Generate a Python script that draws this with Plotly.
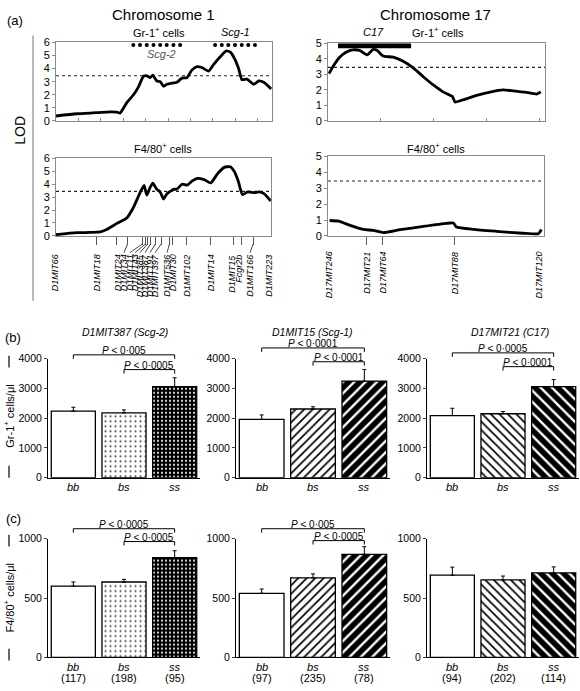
import plotly.graph_objects as go

W, H = 580, 691
FONT = "Liberation Sans, Arial, sans-serif"

# ---------------- data ----------------
chr1_len = 96.4
chr17_len = 41.0
lod_threshold = 3.45

chr1_gr1_cm = [0, 9.2, 18.2, 24.1, 27.1, 28.6, 31.6, 34.6, 36.8, 39.0, 40.5, 42.0, 43.2, 45.0, 46.5,
               48.0, 49.5, 52.5, 54.0, 56.2, 58.4, 60.7, 62.9, 65.1, 68.1, 70.3, 73.3, 76.0, 77.8,
               80.0, 81.5, 83.0, 85.2, 88.2, 90.5, 92.7, 96.0]
chr1_gr1_lod = [0.38, 0.55, 0.63, 0.7, 0.68, 0.6, 1.4, 2.0, 2.6, 3.4, 3.45, 3.3, 3.5, 3.05, 3.0,
                2.65, 2.8, 2.9, 2.95, 3.27, 3.3, 3.9, 4.15, 4.08, 3.8, 4.3, 4.9, 5.35, 5.25,
                4.65, 4.0, 3.15, 3.2, 2.8, 3.05, 2.95, 2.45]

chr1_f480_cm = [0, 9.3, 18.3, 19.8, 22.7, 27.2, 31.7, 34.7, 37.7, 39.5, 40.7, 42.2, 43.4, 45.2, 46.7,
                48.2, 49.7, 52.7, 54.2, 56.6, 58.8, 61.1, 63.4, 66.4, 69.4, 72.4, 75.4, 78.1, 79.9,
                81.7, 83.6, 85.9, 88.9, 91.1, 93.4, 96.3]
chr1_f480_lod = [0.1, 0.25, 0.3, 0.32, 0.5, 0.95, 1.38, 2.2, 3.35, 3.9, 3.15, 3.75, 4.08, 3.6, 3.4,
                 2.85, 3.25, 3.6, 3.62, 4.0, 3.92, 4.25, 4.45, 4.35, 4.1, 4.8, 5.3, 5.35, 5.0,
                 4.25, 3.2, 3.4, 3.35, 3.4, 3.25, 2.7]

chr17_gr1_cm = [0.2, 0.9, 2.2, 3.4, 4.7, 6.0, 7.4, 8.5, 9.3, 10.4, 12.3, 14.2, 16.1, 18.0, 19.9,
                21.8, 23.5, 24.0, 25.6, 28.1, 30.6, 33.1, 35.0, 37.5, 39.4, 40.2]
chr17_gr1_lod = [3.06, 3.48, 4.1, 4.43, 4.58, 4.54, 4.26, 4.6, 4.54, 4.18, 4.11, 3.84, 3.42, 2.85, 2.32,
                 1.86, 1.58, 1.22, 1.37, 1.65, 1.86, 2.0, 1.94, 1.84, 1.73, 1.86]

chr17_f480_cm = [0.3, 2.0, 4.2, 6.7, 8.6, 10.5, 13.7, 18.1, 22.5, 23.8, 24.4, 27.6, 32.0, 37.0, 39.9, 40.5]
chr17_f480_lod = [0.97, 0.93, 0.66, 0.41, 0.35, 0.21, 0.39, 0.6, 0.79, 0.81, 0.56, 0.41, 0.29, 0.17, 0.14, 0.41]

scg2_dots_cm = [34.5, 37.5, 40.5, 43.5, 46.5, 49.4, 52.4, 55.4]
scg1_dots_cm = [71.0, 74.0, 76.9, 79.9, 82.9, 85.8, 88.8]
dots_lod = 5.8
c17_interval_cm = [1.9, 15.7]
c17_bar_lod = 4.85

chr1_markers = ["D1MIT66", "D1MIT18", "D1MIT24", "D1MIT34", "D1MIT11", "D1MIT43", "D1MIT385",
                "D1MIT387", "D1MIT191", "D1MIT397", "D1MIT536", "D1MIT30", "D1MIT102", "D1MIT14",
                "D1MIT15", "Fcgr2b", "D1MIT166", "D1MIT223"]
chr1_marker_cm = [0, 18.3, 27.2, 32.1, 38.8, 40.2, 41.1, 42.4, 44.6, 47.3, 50.9, 52.2, 58.5, 69.2,
                  79.5, 83.0, 88.4, 96.4]
chr17_markers = ["D17MIT246", "D17MIT21", "D17MIT64", "D17MIT88", "D17MIT120"]
chr17_marker_cm = [0.2, 7.4, 10.4, 24.0, 40.1]

genotypes = ["bb", "bs", "ss"]
gr1_scg2 = [2240, 2180, 3060]
gr1_scg2_err = [130, 100, 300]
gr1_scg1 = [1960, 2310, 3250]
gr1_scg1_err = [150, 75, 390]
gr1_c17 = [2090, 2150, 3060]
gr1_c17_err = [245, 75, 240]
f480_scg2 = [600, 635, 840]
f480_scg2_err = [35, 22, 58]
f480_scg1 = [540, 670, 868]
f480_scg1_err = [36, 33, 64]
f480_c17 = [692, 652, 712]
f480_c17_err = [68, 33, 50]
n_scg2 = [117, 198, 95]
n_scg1 = [97, 235, 78]
n_c17 = [94, 202, 114]

# brackets: (panel, from, to, y value, label)
brackets = [
    (5, 0, 2, 4132, "<i>P</i> < 0·005"), (5, 1, 2, 3636, "<i>P</i> < 0·0005"),
    (6, 0, 2, 4364, "<i>P</i> < 0·0001"), (6, 1, 2, 3900, "<i>P</i> < 0·0001"),
    (7, 0, 2, 4198, "<i>P</i> < 0·0005"), (7, 1, 2, 3735, "<i>P</i> < 0·0001"),
    (8, 0, 2, 1083, "<i>P</i> < 0·0005"), (8, 1, 2, 975, "<i>P</i> < 0·0005"),
    (9, 0, 2, 1083, "<i>P</i> < 0·005"), (9, 1, 2, 983, "<i>P</i> < 0·0005"),
]

# ---------------- layout helpers ----------------
def px(x):
    return x / W

def py(y):
    return 1 - y / H

def dom_x(a, b):
    return [a / W, b / W]

def dom_y(top, bottom):
    return [1 - bottom / H, 1 - top / H]

fig = go.Figure()
layout = dict(width=W, height=H, margin=dict(l=0, r=0, t=0, b=0),
              paper_bgcolor="white", plot_bgcolor="white", showlegend=False,
              font=dict(family=FONT, color="black"), annotations=[], shapes=[])

def axname(i, kind):
    return kind if i == 1 else f"{kind}{i}"

def layname(i, kind):
    return kind + "axis" if i == 1 else f"{kind}axis{i}"

# ---------------- LOD panels ----------------
lod_panels = [
    (1, (56, 272), (37, 117), chr1_len, 6, chr1_gr1_cm, chr1_gr1_lod),
    (2, (328, 545), (38, 117), chr17_len, 5, chr17_gr1_cm, chr17_gr1_lod),
    (3, (56, 271), (155, 234), chr1_len, 6, chr1_f480_cm, chr1_f480_lod),
    (4, (328, 544), (153, 234), chr17_len, 5, chr17_f480_cm, chr17_f480_lod),
]
GRAY = "#8a8a8a"
for i, xd, yd, L, ymax, xs, ys in lod_panels:
    xa, ya = axname(i, "x"), axname(i, "y")
    bottom = i in (3, 4)
    if bottom:
        mcm = chr1_marker_cm[1:-1] if i == 3 else chr17_marker_cm[1:-1]
        xaxis = dict(domain=dom_x(*xd), range=[0, L], anchor=ya, showgrid=False, zeroline=False,
                     showline=True, mirror=True, linecolor=GRAY, linewidth=1,
                     tickvals=mcm, ticks="outside", ticklen=8, tickcolor="#555", tickwidth=1,
                     showticklabels=False)
    else:
        xaxis = dict(domain=dom_x(*xd), range=[0, L], anchor=ya, showgrid=False, zeroline=False,
                     showline=True, mirror=True, linecolor=GRAY, linewidth=1,
                     tickvals=list(range(10, int(L) + 1, 10)), ticks="inside", ticklen=3,
                     tickcolor=GRAY, showticklabels=False)
    layout[layname(i, "x")] = xaxis
    layout[layname(i, "y")] = dict(domain=dom_y(*yd), range=[0, ymax], anchor=xa, showgrid=False,
                                   zeroline=False, showline=True, mirror=True, linecolor=GRAY,
                                   linewidth=1, tickvals=list(range(0, ymax + 1)), ticks="outside",
                                   ticklen=3, tickcolor=GRAY, tickfont=dict(size=11))
    fig.add_trace(go.Scatter(x=[0, L], y=[lod_threshold, lod_threshold], xaxis=xa, yaxis=ya,
                             mode="lines", line=dict(color="#222", width=1.2, dash="dot"),
                             hoverinfo="skip"))
    fig.add_trace(go.Scatter(x=xs, y=ys, xaxis=xa, yaxis=ya, mode="lines",
                             line=dict(color="black", width=2.8, shape="spline", smoothing=0.5)))

# dots & C17 interval
fig.add_trace(go.Scatter(x=scg2_dots_cm + scg1_dots_cm,
                         y=[dots_lod] * (len(scg2_dots_cm) + len(scg1_dots_cm)),
                         xaxis="x", yaxis="y", mode="markers", cliponaxis=False,
                         marker=dict(color="black", size=4)))
fig.add_trace(go.Scatter(x=c17_interval_cm, y=[c17_bar_lod] * 2, xaxis="x2", yaxis="y2",
                         mode="lines", cliponaxis=False, line=dict(color="black", width=5)))

# marker labels (chr1 with leader lines)
chr1_label_px = [55, 97, 118, 124, 130, 135, 140, 145, 150, 155, 167, 173, 187, 211, 232, 239, 250, 269]
for name, cm, lx in zip(chr1_markers, chr1_marker_cm, chr1_label_px):
    tx = 56 + cm / chr1_len * (271 - 56)
    if abs(tx - lx) > 2.5 and 0 < cm < chr1_len:
        layout["shapes"].append(dict(type="line", xref="x3 domain", yref="paper",
                                     x0=cm / chr1_len, y0=py(242), x1=(lx - 56) / (271 - 56),
                                     y1=py(251), line=dict(color="#444", width=1)))
    layout["annotations"].append(dict(text=f"<i>{name}</i>", xref="paper", yref="paper",
                                      x=px(lx), y=py(251), xanchor="center", yanchor="top",
                                      textangle=-90, showarrow=False, font=dict(size=9)))
for name, cm in zip(chr17_markers, chr17_marker_cm):
    layout["annotations"].append(dict(text=f"<i>{name}</i>", xref="x4 domain", yref="paper",
                                      x=cm / chr17_len, y=py(248), xanchor="center", yanchor="top",
                                      textangle=-90, showarrow=False, font=dict(size=9)))

# ---------------- bar panels ----------------
def pat(style):
    if style == "dots":
        return dict(shape=["", ".", "."], fgcolor=["black", "#444", "white"],
                    bgcolor=["white", "white", "black"], size=[6, 5, 4], solidity=[0.1, 0.14, 0.22],
                    fgopacity=1)
    sh = "/" if style == "fwd" else "\\"
    return dict(shape=["", sh, sh], fgcolor=["black", "black", "black"],
                bgcolor=["white", "white", "white"], size=[6, 6, 8], solidity=[0.1, 0.28, 0.7],
                fgopacity=1)

bar_panels = [
    (5, gr1_scg2, gr1_scg2_err, "dots", (48, 200), (359, 480), 4000, None),
    (6, gr1_scg1, gr1_scg1_err, "fwd", (236, 390), (359, 480), 4000, None),
    (7, gr1_c17, gr1_c17_err, "back", (427, 579), (359, 480), 4000, None),
    (8, f480_scg2, f480_scg2_err, "dots", (48, 200), (542, 663), 1000, n_scg2),
    (9, f480_scg1, f480_scg1_err, "fwd", (236, 390), (542, 663), 1000, n_scg1),
    (10, f480_c17, f480_c17_err, "back", (427, 579), (542, 663), 1000, n_c17),
]
for i, vals, errs, style, xd, yd, ymax, ns in bar_panels:
    xa, ya = axname(i, "x"), axname(i, "y")
    layout[layname(i, "x")] = dict(domain=dom_x(*xd), range=[-0.5, 2.5], anchor=ya, showgrid=False,
                                   zeroline=False, showline=True, linecolor="black", linewidth=1,
                                   tickvals=[0, 1, 2], showticklabels=False, ticks="")
    step = ymax // 4 if ymax == 4000 else 500
    layout[layname(i, "y")] = dict(domain=dom_y(*yd), range=[0, ymax], anchor=xa, showgrid=False,
                                   zeroline=False, showline=True, linecolor="black", linewidth=1,
                                   tickvals=list(range(0, ymax + 1, step)), ticks="outside",
                                   ticklen=3, tickfont=dict(size=10.5))
    fig.add_trace(go.Bar(x=[0, 1, 2], y=vals, xaxis=xa, yaxis=ya, width=0.87,
                         marker=dict(color="white", line=dict(color="black", width=1.3),
                                     pattern=pat(style)),
                         error_y=dict(type="data", array=errs, arrayminus=[0, 0, 0], symmetric=False,
                                      color="black", thickness=1, width=2)))
    base_y = yd[1]
    xr = f"{xa} domain"
    for k, g in enumerate(genotypes):
        layout["annotations"].append(dict(text=f"<i>{g}</i>", xref=xr, yref="paper",
                                          x=(k + 0.5) / 3, y=py(base_y + 10), xanchor="center",
                                          yanchor="middle", showarrow=False, font=dict(size=11)))
        if ns is not None:
            layout["annotations"].append(dict(text=f"({ns[k]})", xref=xr, yref="paper",
                                              x=(k + 0.5) / 3, y=py(base_y + 21), xanchor="center",
                                              yanchor="middle", showarrow=False, font=dict(size=11)))

for i, a, b, yv, lab in brackets:
    ymax = 4000 if i < 8 else 1000
    yd = yv / ymax
    drop = 4 / 121
    x0, x1 = (a + 0.5) / 3, (b + 0.5) / 3
    xr, yr = f"{axname(i, 'x')} domain", f"{axname(i, 'y')} domain"
    for (u0, v0, u1, v1) in [(x0, yd - drop, x0, yd), (x0, yd, x1, yd), (x1, yd, x1, yd - drop)]:
        layout["shapes"].append(dict(type="line", xref=xr, yref=yr, x0=u0, y0=v0, x1=u1, y1=v1,
                                     line=dict(color="black", width=1)))
    layout["annotations"].append(dict(text=lab, xref=xr, yref=yr, x=(x0 + x1) / 2, y=yd,
                                      xanchor="center", yanchor="bottom", showarrow=False,
                                      font=dict(size=10), yshift=-3))

# ---------------- texts ----------------
def text(t, x, y, size=11, angle=0, color="black", xanchor="center"):
    layout["annotations"].append(dict(text=t, xref="paper", yref="paper", x=px(x), y=py(y),
                                      xanchor=xanchor, yanchor="middle", showarrow=False,
                                      textangle=angle, font=dict(size=size, color=color)))

text("(a)", 15, 15, 13)
text("Chromosome 1", 163, 9, 15)
text("Chromosome 17", 436, 9, 15)
text("Gr-1<sup>+</sup> cells", 159, 26, 11)
text("<i>Scg-1</i>", 235, 26, 11)
text("<i>Scg-2</i>", 161, 49, 11, color="#555")
text("<i>C17</i>", 373, 26, 11)
text("Gr-1<sup>+</sup> cells", 438, 26, 11)
text("F4/80<sup>+</sup> cells", 163, 145, 11)
text("F4/80<sup>+</sup> cells", 436, 145, 11)
text("LOD", 20, 127, 14, angle=-90)
text("(b)", 13, 337, 13)
text("(c)", 13, 522, 13)
text("<i>D1MIT387 (Scg-2)</i>", 125, 332, 10.5)
text("<i>D1MIT15 (Scg-1)</i>", 312, 332, 10.5)
text("<i>D17MIT21 (C17)</i>", 510, 332, 10.5)
text("Gr-1<sup>+</sup> cells/μl", 9, 418, 11, angle=-90)
text("F4/80<sup>+</sup> cells/μl", 9, 602, 11, angle=-90)

for (x, y0, y1, c) in [(33, 30, 300, GRAY), (9, 356, 368, "black"), (9, 468, 480, "black"),
                       (9, 538, 550, "black"), (9, 654, 666, "black")]:
    layout["shapes"].append(dict(type="line", xref="paper", yref="paper", x0=px(x), x1=px(x),
                                 y0=py(y0), y1=py(y1), line=dict(color=c, width=1.2)))

fig.update_layout(**layout)
fig.write_html("out.html", config={"displayModeBar": False},
               post_script="document.body.style.margin='0';document.body.style.overflow='hidden';")
